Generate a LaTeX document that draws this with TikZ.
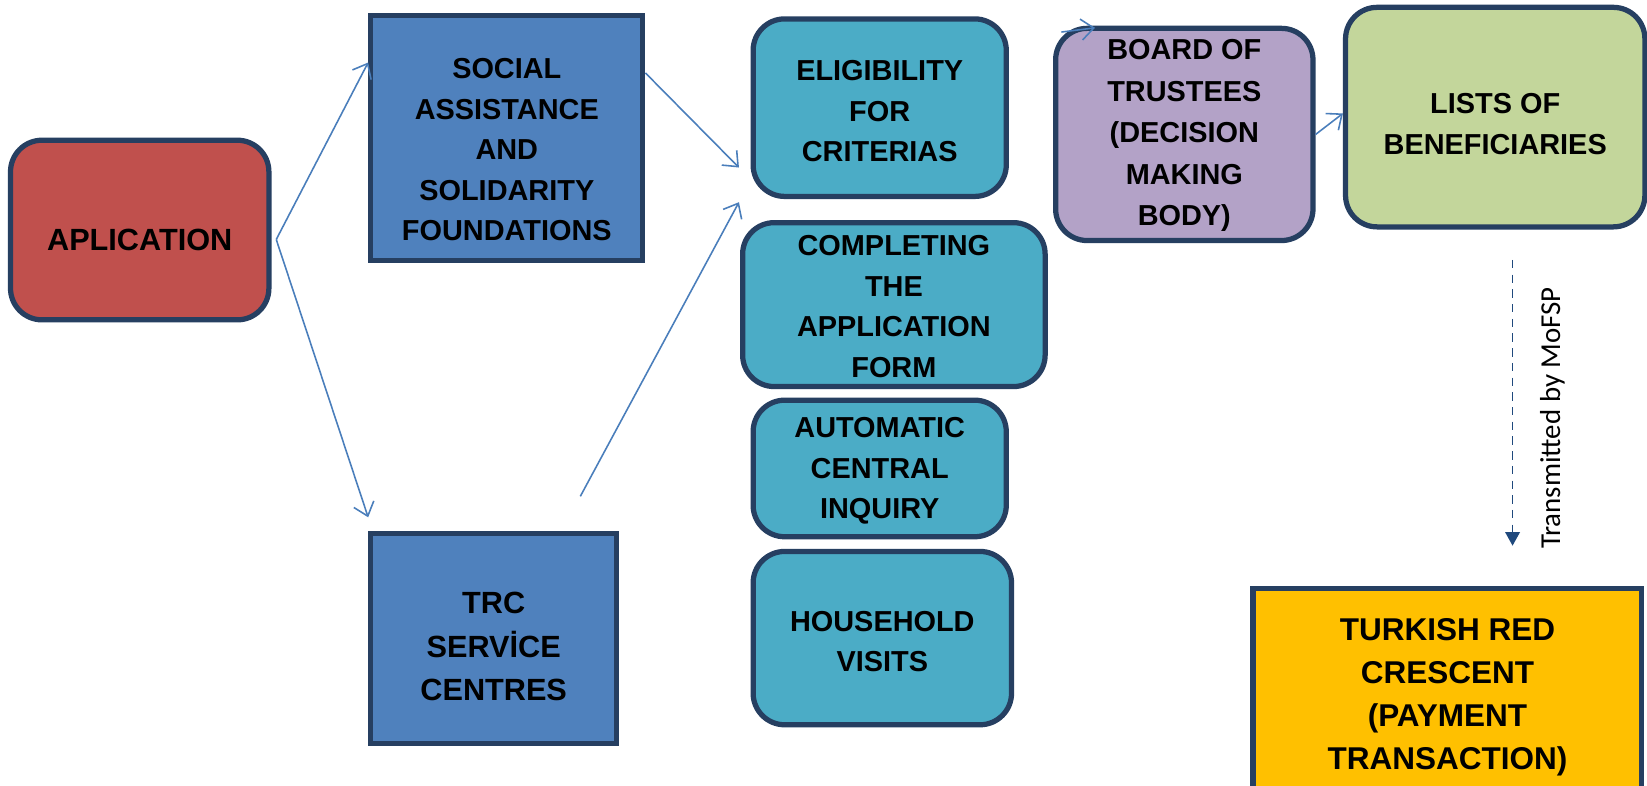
\documentclass[tikz,border=0pt]{standalone}
\usepackage{fontspec}
\setmainfont{Liberation Sans}
\newfontfamily\carl{Carlito}
\usetikzlibrary{arrows.meta}
\definecolor{bordc}{HTML}{263F61}
\definecolor{appc}{HTML}{C0504D}
\definecolor{bluec}{HTML}{4F81BD}
\definecolor{tealc}{HTML}{4BACC6}
\definecolor{purpc}{HTML}{B3A2C7}
\definecolor{greenc}{HTML}{C3D69B}
\definecolor{goldc}{HTML}{FFC000}
\definecolor{arrc}{HTML}{4A7EBB}
\definecolor{dashc}{HTML}{1F497D}
\begin{document}
\begin{tikzpicture}[x=0.5pt,y=-0.5pt,
  box/.style={draw=bordc, line width=2.5pt, inner sep=0pt},
  rbox/.style={box, rounded corners=15pt},
  txt/.style={align=center, inner sep=0pt, font={\bfseries\fontsize{13.75}{19.25}\selectfont}},
  conn/.style={draw=arrc, line width=0.75pt, -{Straight Barb[length=6pt,width=10pt]}},
  dconn/.style={draw=dashc, line width=0.75pt, dash pattern=on 4pt off 3pt, -{Triangle[length=6.5pt,width=7pt]}},
]
\clip (0,0) rectangle (1568,748);
\fill[white] (0,0) rectangle (1568,748);

% boxes
\node[rbox, fill=appc,   minimum width=123pt,   minimum height=85.5pt]  (app)   at (133,219) {};
\node[box,  fill=bluec,  minimum width=129.5pt, minimum height=116.5pt] (ssas)  at (482.5,131.5) {};
\node[box,  fill=bluec,  minimum width=117pt,   minimum height=100pt]   (trc)   at (470,608) {};
\node[rbox, fill=tealc,  minimum width=120.5pt, minimum height=84.5pt]  (elig)  at (837.5,102.5) {};
\node[rbox, fill=tealc,  minimum width=144pt,   minimum height=78pt]    (comp)  at (851,290) {};
\node[rbox, fill=tealc,  minimum width=120.5pt, minimum height=65pt]    (auto)  at (837.5,446) {};
\node[rbox, fill=tealc,  minimum width=123pt,   minimum height=82.5pt]  (house) at (840,607.5) {};
\node[rbox, fill=purpc,  minimum width=122.5pt, minimum height=101pt]   (board) at (1127.5,128) {};
\node[rbox, fill=greenc, minimum width=142.5pt, minimum height=104.5pt] (lists) at (1423.5,111.5) {};
\node[box,  fill=goldc,  minimum width=185pt,   minimum height=103.5pt] (trk)   at (1378,663.5) {};

% texts
\node[txt, font={\bfseries\fontsize{14.6}{19.25}\selectfont}] (appT) at (133,228.5) {APLICATION};
\node[txt] (ssasT) at (482.5,142.5) {SOCIAL\\ASSISTANCE\\AND\\SOLIDARITY\\FOUNDATIONS};
\node[txt, font={\bfseries\fontsize{14.6}{20.75}\selectfont}] (trcT) at (470,615.5) {TRC\\SERVİCE\\CENTRES};
\node[txt] (eligT) at (837.5,106) {ELIGIBILITY\\FOR\\CRITERIAS};
\node[txt] (compT) at (851,292) {COMPLETING\\THE\\APPLICATION\\FORM};
\node[txt] (autoT) at (837.5,448.5) {AUTOMATIC\\CENTRAL\\INQUIRY};
\node[txt] (houseT) at (840,611) {HOUSEHOLD\\VISITS};
\node[txt, font={\bfseries\fontsize{13.75}{19.75}\selectfont}] (boardT) at (1127.5,129) {BOARD OF\\TRUSTEES\\(DECISION\\MAKING\\BODY)};
\node[txt] (listsT) at (1423.5,118) {LISTS OF\\BENEFICIARIES};
\node[txt, font={\bfseries\fontsize{15}{20.5}\selectfont}] (trkT) at (1378,663.5) {TURKISH RED\\CRESCENT\\(PAYMENT\\TRANSACTION)};
\node[rotate=90, font={\carl\fontsize{13.75}{16}\selectfont}, inner sep=0pt] (lbl) at (1478,398)
  {Transmitted by MoFSP};

% connectors
\coordinate (split) at (263,228);
\draw[conn] (split) -- ([yshift=-23.5pt]ssas.north west);
\draw[conn] (split) -- ([yshift=6.5pt]trc.north west);
\draw[conn] ([yshift=-28.5pt]ssas.north east) -- ([xshift=-5.5pt,yshift=15pt]elig.south west);
\coordinate (trcstart) at ([xshift=-18.5pt,yshift=16.5pt]trc.north east);
\draw[conn] (trcstart) -- ([xshift=-0.5pt,yshift=8.5pt]comp.north west);
\draw[conn] (board.east) -- ([yshift=1.75pt]lists.west);
\coordinate (bstub) at ([xshift=4pt,yshift=-3pt]board.north west);
\draw[conn] (bstub) -- ([xshift=20pt,yshift=-1pt]board.north west);
\coordinate (dstart) at ([xshift=8.25pt,yshift=-14.5pt]lists.south);
\coordinate (dend) at ([xshift=31pt,yshift=19pt]trk.north);
\draw[dconn] (dstart) -- (dend);
\end{tikzpicture}
\end{document}
